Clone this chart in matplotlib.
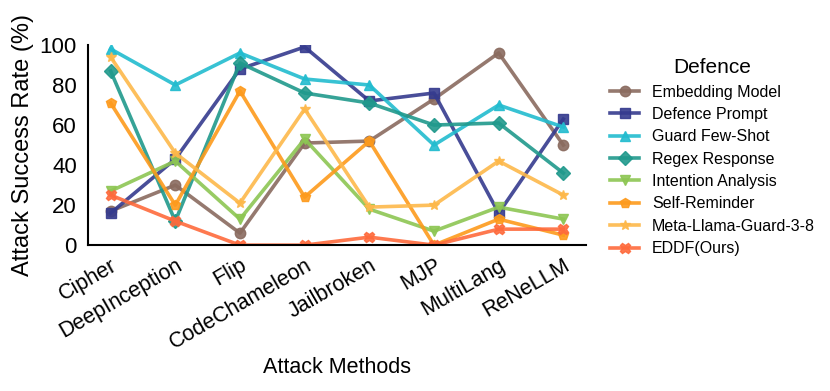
import matplotlib
matplotlib.use("Agg")
import matplotlib.pyplot as plt

attacks = ["Cipher", "DeepInception", "Flip", "CodeChameleon", "Jailbroken", "MJP", "MultiLang", "ReNeLLM"]
embedding_model = [17, 30, 6, 51, 52, 73, 96, 50]
defence_prompt = [16, 43, 88, 99, 72, 76, 16, 63]
guard_few_shot = [98, 80, 96, 83, 80, 50, 70, 59]
regex_response = [87, 12, 91, 76, 71, 60, 61, 36]
intention_analysis = [27, 42, 13, 53, 18, 7, 19, 13]
self_reminder = [71, 20, 77, 24, 52, 0, 13, 5]
meta_llama_guard = [94, 46, 21, 68, 19, 20, 42, 25]
eddf = [25, 12, 0, 0, 4, 0, 8, 8]

series = [
    ("Embedding Model", embedding_model, "#8a6b5f", "o"),
    ("Defence Prompt", defence_prompt, "#353b8e", "s"),
    ("Guard Few-Shot", guard_few_shot, "#22bccf", "^"),
    ("Regex Response", regex_response, "#20998c", "D"),
    ("Intention Analysis", intention_analysis, "#8dc653", "v"),
    ("Self-Reminder", self_reminder, "#fd9a1c", "p"),
    ("Meta-Llama-Guard-3-8", meta_llama_guard, "#fdb84a", "*"),
    ("EDDF(Ours)", eddf, "#fe6a3c", "X"),
]

plt.rcParams['font.family'] = ['Liberation Sans', 'DejaVu Sans']

fig = plt.figure(figsize=(8.3, 3.91), dpi=100)
ax = fig.add_axes([0.106, 0.373, 0.600, 0.512])
x = list(range(len(attacks)))
for name, vals, col, mk in series:
    ax.plot(x, vals, color=col, marker=mk, lw=2.6, ms=7.5, alpha=0.9, label=name)

ax.set_xlim(-0.35, 7.35)
ax.set_ylim(0, 100)
ax.set_yticks([0, 20, 40, 60, 80, 100])
ax.set_xticks(x)
ax.set_xticklabels(attacks, rotation=30, ha="right", rotation_mode="anchor", fontsize=15.5)
ax.tick_params(axis='y', labelsize=16, length=0, pad=8)
ax.tick_params(axis='x', length=0, pad=7)
for s in ["top", "right"]:
    ax.spines[s].set_visible(False)
for s in ["left", "bottom"]:
    ax.spines[s].set_linewidth(1.5)
    ax.spines[s].set_color("black")
ax.set_ylabel("Attack Success Rate (%)", fontsize=17)
ax.set_xlabel("Attack Methods", fontsize=15.5)
ax.xaxis.set_label_coords(0.5, -0.56)
leg = ax.legend(title="Defence", loc="upper left", bbox_to_anchor=(1.02, 1.005),
                frameon=False, fontsize=11.5, title_fontsize=15, handlelength=1.8,
                labelspacing=0.46)
fig.savefig("out.png", dpi=100)
